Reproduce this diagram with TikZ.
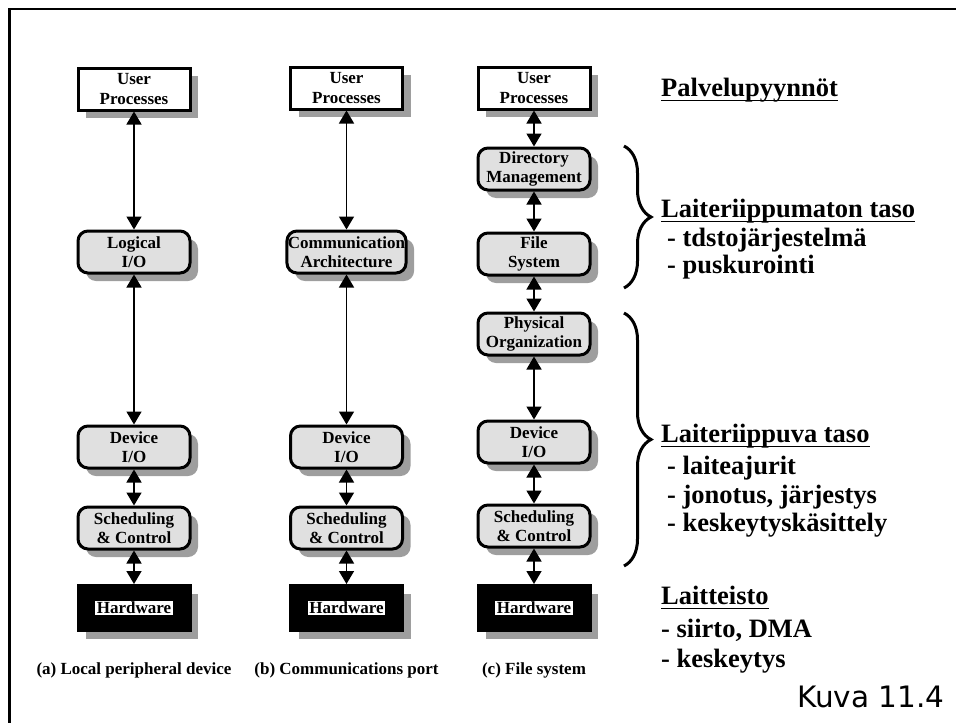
\documentclass[tikz,border=0pt]{standalone}
\usepackage{fontspec}
\setmainfont{Liberation Serif}
\newfontfamily\figfont{DejaVu Sans}
\usetikzlibrary{arrows.meta,shadows,decorations.pathreplacing}
\definecolor{layergray}{gray}{0.88}
\definecolor{shadowgray}{gray}{0.62}
\setlength{\fboxsep}{1.5pt}

\begin{document}
\begin{tikzpicture}[x=1pt, y=-1pt,
    user/.style={draw, line width=3pt, fill=white, minimum width=112pt, minimum height=42pt,
                 align=center, inner sep=1pt, font=\fontsize{17}{19.5}\selectfont\bfseries,
                 drop shadow={shadow xshift=8pt, shadow yshift=-8pt, fill=shadowgray, opacity=1}},
    layer/.style={user, rounded corners=10pt, fill=layergray},
    hw/.style={user, fill=black, minimum height=45pt},
    link/.style={line width=1.5pt, {Triangle[width=15pt,length=13pt]}-{Triangle[width=15pt,length=13pt]}},
    caption/.style={anchor=base, inner sep=0pt, font=\fontsize{17}{20}\selectfont\bfseries},
    head/.style={anchor=base west, inner sep=0pt, font=\fontsize{26.5}{30}\selectfont\bfseries},
    item/.style={head},
    uline/.style={line width=1.8pt},
    bracket/.style={line width=3pt, decorate, decoration={brace, amplitude=27pt}}
  ]
    \useasboundingbox (0,0) rectangle (956,723);
    % frame
    \draw[line width=2.6pt] (9.5,723) |- (956,9);

    % (a) Local peripheral device
    \node[user]  (usra) at (134,89)  {User\\Processes};
    \node[layer] (logi) at (134,252) {Logical\\I/O};
    \node[layer] (deva) at (134,447) {Device\\I/O};
    \node[layer] (scha) at (134,528) {Scheduling\\\& Control};
    \node[hw]    (hwa)  at (134,608) {\colorbox{white}{Hardware}};
    \draw[link] (usra.south) -- (logi.north);
    \draw[link] (logi.south) -- (deva.north);
    \draw[link] (deva.south) -- (scha.north);
    \draw[link] (scha.south) -- (hwa.north);
    \node[caption] (capa) at (134,674) {(a) Local peripheral device};

    % (b) Communications port
    \node[user]  (usrb) at (346.5,88)  {User\\Processes};
    \node[layer] (comm) at (346.5,252) {Communication\\Architecture};
    \node[layer] (devb) at (346.5,447) {Device\\I/O};
    \node[layer] (schb) at (346.5,528) {Scheduling\\\& Control};
    \node[hw]    (hwb)  at (346.5,608) {\colorbox{white}{Hardware}};
    \draw[link] (usrb.south) -- (comm.north);
    \draw[link] (comm.south) -- (devb.north);
    \draw[link] (devb.south) -- (schb.north);
    \draw[link] (schb.south) -- (hwb.north);
    \node[caption] (capb) at (346.5,674) {(b) Communications port};

    % (c) File system
    \node[user]  (usrc) at (534,88)  {User\\Processes};
    \node[layer] (dirm) at (534,169) {Directory\\Management};
    \node[layer] (fsys) at (534,254) {File\\System};
    \node[layer] (phys) at (534,334) {Physical\\Organization};
    \node[layer] (devc) at (534,442) {Device\\I/O};
    \node[layer] (schc) at (534,526) {Scheduling\\\& Control};
    \node[hw]    (hwc)  at (534,608) {\colorbox{white}{Hardware}};
    \draw[link] (usrc.south) -- (dirm.north);
    \draw[link] (dirm.south) -- (fsys.north);
    \draw[link] (fsys.south) -- (phys.north);
    \draw[link] (phys.south) -- (devc.north);
    \draw[link] (devc.south) -- (schc.north);
    \draw[link] (schc.south) -- (hwc.north);
    \node[caption] (capc) at (534,674) {(c) File system};

    % braces
    \coordinate (b1top) at (624,146);
    \coordinate (b1bot) at (624,288);
    \coordinate (b2top) at (624,313);
    \coordinate (b2bot) at (624,566);
    \draw[bracket] (b1top) -- (b1bot);
    \draw[bracket] (b2top) -- (b2bot);

    % texts on the right
    \node[head] (hpal) at (661,96) {Palvelupyynnöt};
    \draw[uline] ([yshift=-4.5pt]hpal.base west) -- ([yshift=-4.5pt]hpal.base east);

    \node[head] (hind) at (661,217) {Laiteriippumaton taso};
    \draw[uline] ([yshift=-4.5pt]hind.base west) -- ([yshift=-4.5pt]hind.base east);
    \node[item] (ind1) at (667,246) {- tdstojärjestelmä};
    \node[item] (ind2) at (667,273) {- puskurointi};

    \node[head] (hdep) at (661,442) {Laiteriippuva taso};
    \draw[uline] ([yshift=-4.5pt]hdep.base west) -- ([yshift=-4.5pt]hdep.base east);
    \node[item] (dep1) at (667,474) {- laiteajurit};
    \node[item] (dep2) at (667,503) {- jonotus, järjestys};
    \node[item] (dep3) at (667,531) {- keskeytyskäsittely};

    \node[head] (hlai) at (661,604) {Laitteisto};
    \draw[uline] ([yshift=-4.5pt]hlai.base west) -- ([yshift=-4.5pt]hlai.base east);
    \node[item] (lai1) at (661,637) {- siirto, DMA};
    \node[item] (lai2) at (661,667) {- keskeytys};

    \node[anchor=base west, inner sep=0pt, font=\figfont\fontsize{29.5}{32}\selectfont] (kuva) at (797,707) {Kuva 11.4};
\end{tikzpicture}
\end{document}
